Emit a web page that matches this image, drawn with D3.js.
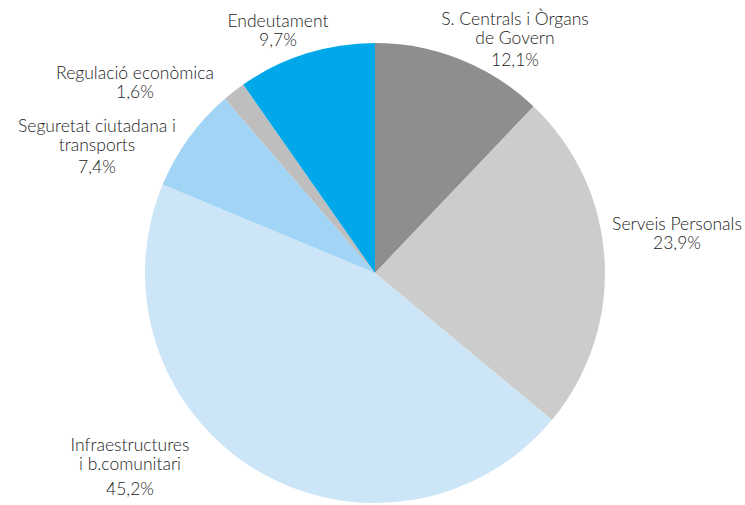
<!DOCTYPE html>
<html><head><meta charset="utf-8">
<script src="https://cdn.jsdelivr.net/npm/d3@7/dist/d3.min.js"></script>
<style>body{margin:0;background:#fff}svg{display:block}</style>
</head><body>
<svg id="c" width="745" height="505"></svg>
<script>
const categories = ["S. Centrals i Òrgans de Govern","Serveis Personals","Infraestructures i b.comunitari","Seguretat ciutadana i transports","Regulació econòmica","Endeutament"];
const values = [12.1, 23.9, 45.2, 7.4, 1.6, 9.7];
const valueLabels = ["12,1%","23,9%","45,2%","7,4%","1,6%","9,7%"];
const labelLines = [["S. Centrals i Òrgans","de Govern"],["Serveis Personals"],["Infraestructures","i b.comunitari"],["Seguretat ciutadana i","transports"],["Regulació econòmica"],["Endeutament"]];
const colors = ["#8e8e8e","#cccccc","#cce6f8","#a1d4f5","#bebebe","#00a8e9"];
// label anchor positions (centre x, first line baseline y)
const labelPos = [[515,25],[677,230],[130,451],[97,132],[135,79],[278,27]];

const svg = d3.select("#c");
const cx = 375, cy = 273, r = 230;
const total = d3.sum(values);
const pie = d3.pie().sort(null).value(d=>d)(values.map(v=>v*100/total));
const arc = d3.arc().innerRadius(0).outerRadius(r);
const g = svg.append("g").attr("transform",`translate(${cx},${cy})`);
g.selectAll("path").data(pie).join("path").attr("d",arc).attr("fill",(d,i)=>colors[i]);

const font = "Lato, 'Open Sans', sans-serif";
categories.forEach((c,i)=>{
  const [x,y] = labelPos[i];
  const t = svg.append("text").attr("x",x).attr("y",y).attr("text-anchor","middle")
    .attr("font-family",font).attr("font-size",17.5).attr("font-weight",300).attr("fill","#222");
  labelLines[i].forEach((ln,j)=>t.append("tspan").attr("x",x).attr("dy", j===0?0:19).text(ln));
  const extra = labelLines[i].length>1 ? (i===2?25:22) : 19;
  svg.append("text").attr("x",x).attr("y",y+(labelLines[i].length-1)*19+extra).attr("text-anchor","middle")
    .attr("font-family",font).attr("font-size",17.5).attr("font-weight",300).attr("fill","#222").text(valueLabels[i]);
});
</script>
</body></html>
